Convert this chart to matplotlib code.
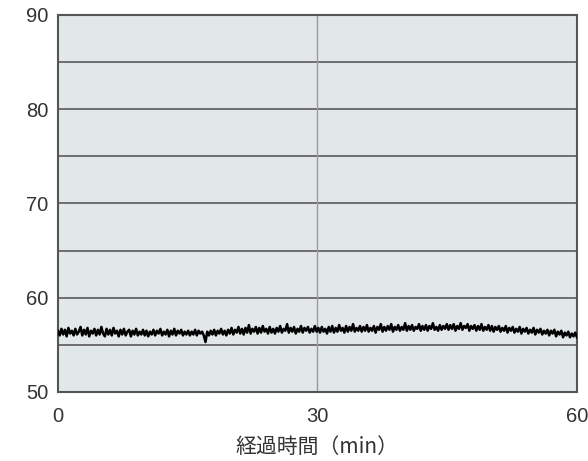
import numpy as np
import matplotlib.pyplot as plt

# Values (reading vs elapsed minutes), evenly spaced in time
values = [
    56.5, 56.0, 56.7, 56.1, 56.6, 55.9, 56.8, 56.2, 56.5, 56.0, 56.7, 56.1, 56.4, 56.9, 56.0, 56.6, 56.1, 56.8, 55.9, 56.5, 56.2, 56.7, 56.0, 56.6, 56.1,
    56.9, 56.2, 55.9, 56.7, 56.1, 56.6, 56.0, 56.8, 56.2, 56.5, 55.9, 56.6, 56.1, 56.7, 56.0, 56.4, 56.6, 55.9, 56.5, 56.1, 56.7, 56.0, 56.4, 56.1, 56.6,
    56.0, 56.5, 55.9, 56.4, 56.1, 56.6, 56.0, 56.5, 56.2, 56.7, 56.0, 56.4, 56.1, 56.6, 55.9, 56.5, 56.1, 56.7, 56.0, 56.5, 56.2, 56.6, 56.0, 56.4, 56.1,
    56.5, 56.0, 56.4, 56.1, 56.6, 56.0, 56.5, 56.2, 56.4, 56.0, 55.3, 56.4, 56.0, 56.5, 56.1, 56.6, 56.0, 56.5, 56.2, 56.7, 56.1, 56.5, 56.0, 56.6, 56.2,
    56.8, 56.1, 56.6, 56.3, 56.9, 56.2, 56.7, 56.1, 56.8, 56.3, 57.1, 56.2, 56.7, 56.4, 56.9, 56.2, 56.8, 56.3, 57.0, 56.4, 56.7, 56.2, 56.9, 56.3, 56.7,
    56.2, 56.8, 56.4, 57.0, 56.3, 56.7, 56.5, 57.2, 56.3, 56.8, 56.4, 56.9, 56.2, 56.7, 56.4, 57.0, 56.3, 56.8, 56.5, 56.9, 56.3, 56.7, 56.4, 57.0, 56.4,
    56.8, 56.3, 56.9, 56.4, 56.7, 56.2, 56.9, 56.4, 57.0, 56.3, 56.8, 56.4, 57.1, 56.5, 56.8, 56.3, 57.0, 56.4, 56.9, 56.5, 57.2, 56.4, 56.8, 56.5, 57.0,
    56.4, 56.9, 56.5, 57.1, 56.4, 56.8, 56.5, 57.0, 56.3, 56.9, 56.6, 57.2, 56.4, 56.9, 56.5, 57.0, 56.6, 57.2, 56.4, 56.9, 56.6, 57.1, 56.5, 56.9, 56.6,
    57.3, 56.5, 57.0, 56.6, 57.1, 56.5, 56.9, 56.7, 57.2, 56.5, 57.0, 56.6, 57.1, 56.5, 57.0, 56.7, 57.3, 56.6, 56.9, 56.5, 57.1, 56.6, 57.0, 56.7, 57.2,
    56.6, 57.1, 56.7, 57.2, 56.5, 57.0, 56.7, 57.3, 56.6, 57.0, 56.8, 57.2, 56.5, 57.0, 56.7, 57.1, 56.5, 57.0, 56.6, 57.2, 56.5, 56.9, 56.6, 57.1, 56.5,
    57.0, 56.4, 56.9, 56.6, 57.0, 56.4, 56.8, 56.5, 57.0, 56.3, 56.8, 56.5, 56.9, 56.3, 56.7, 56.4, 56.9, 56.2, 56.7, 56.4, 56.8, 56.2, 56.6, 56.3, 56.8,
    56.1, 56.6, 56.3, 56.7, 56.1, 56.5, 56.2, 56.6, 56.0, 56.5, 56.2, 56.6, 55.9, 56.4, 56.1, 56.5, 55.8, 56.3, 56.0, 56.4, 55.8, 56.2, 55.9, 56.3, 55.8,
]
t_start, t_end = 0, 60
x_ticks = [0, 30, 60]
y_ticks = [50, 60, 70, 80, 90]
y_grid = [55, 60, 65, 70, 75, 80, 85]
x_grid = [30]
x_label = "経過時間（min）"

minutes = np.linspace(t_start, t_end, len(values))

plt.rcParams['font.family'] = ['Liberation Sans', 'Noto Sans CJK JP']

fig = plt.figure(figsize=(5.88, 4.61), dpi=100)
ax = fig.add_axes([0.0986, 0.1497, 0.8826, 0.8178])
ax.set_facecolor("#e2e7e9")

for g in y_grid:
    ax.axhline(g, color="#6e6e6e", lw=1.4, zorder=1)
for g in x_grid:
    ax.axvline(g, color="#9a9a9a", lw=1.0, zorder=1)

ax.plot(minutes, values, color="black", lw=1.8, zorder=3)

ax.set_xlim(t_start, t_end)
ax.set_ylim(50, 90)
ax.set_xticks(x_ticks)
ax.set_yticks(y_ticks)
ax.tick_params(length=0, labelsize=14.5, colors="#333333")
ax.tick_params(axis="x", pad=11)
ax.tick_params(axis="y", pad=7)
for s in ax.spines.values():
    s.set_color("#555555")
    s.set_linewidth(1.5)

ax.set_xlabel(x_label, fontsize=15, color="#333333", labelpad=7,
              family=['Noto Sans CJK JP', 'DejaVu Sans'])

fig.savefig("out.png", dpi=100)
